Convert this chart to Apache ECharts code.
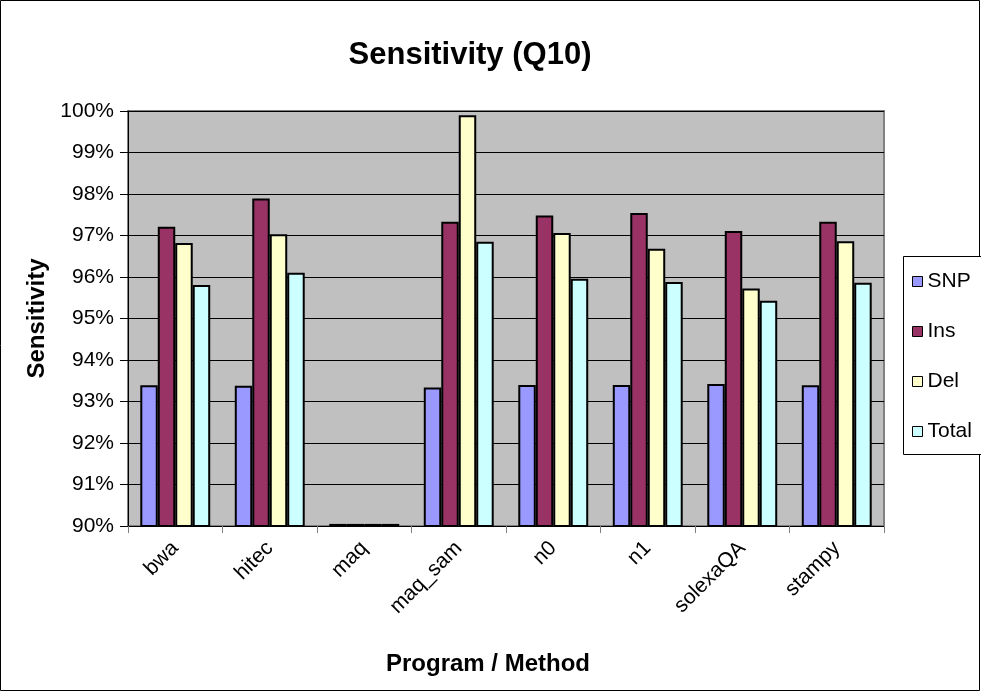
<!DOCTYPE html>
<html>
<head>
<meta charset="utf-8">
<script src="https://cdn.jsdelivr.net/npm/echarts@6/dist/echarts.min.js"></script>
<style>
  html, body { margin: 0; padding: 0; background: #fff; }
  #chart { width: 981px; height: 692px; }
</style>
</head>
<body>
<div id="chart"></div>
<script>
// Sensitivity per program/method, in percent
const categories = ['bwa', 'hitec', 'maq', 'maq_sam', 'n0', 'n1', 'solexaQA', 'stampy'];
const seriesNames = ['SNP', 'Ins', 'Del', 'Total'];
const snp   = [93.39, 93.38, 90.05, 93.34, 93.40, 93.40, 93.42, 93.39];
const ins   = [97.21, 97.89, 90.05, 97.33, 97.48, 97.54, 97.11, 97.33];
const del   = [96.82, 97.03, 90.05, 99.90, 97.06, 96.68, 95.72, 96.86];
const total = [95.81, 96.10, 90.05, 96.85, 95.96, 95.88, 95.43, 95.86];
const yMin = 90, yMax = 100, yStep = 1;

const colors = ['#9999FF', '#993366', '#FFFFCC', '#CCFFFF'];
const values = [snp, ins, del, total];
const FONT = 'Liberation Sans, Arial, sans-serif';

const chart = echarts.init(document.getElementById('chart'), null, { renderer: 'canvas' });

chart.setOption({
  animation: false,
  backgroundColor: '#ffffff',
  textStyle: { fontFamily: FONT },
  title: {
    text: 'Sensitivity (Q10)',
    left: 465,
    top: 35,
    textAlign: 'center',
    textStyle: { fontFamily: FONT, fontWeight: 'bold', fontSize: 31, color: '#000' }
  },
  graphic: [
    { type: 'rect', z: 0, shape: { x: 0.5, y: 0.5, width: 979, height: 690 },
      style: { fill: 'none', stroke: '#000', lineWidth: 1 } },
    { type: 'rect', z: 1, shape: { x: 903.5, y: 256.5, width: 90, height: 198 },
      style: { fill: '#fff', stroke: '#000', lineWidth: 1 } }
  ],
  legend: {
    orient: 'vertical',
    left: 912,
    top: 271,
    padding: 0,
    itemWidth: 10,
    itemHeight: 10,
    itemGap: 29,
    icon: 'rect',
    z: 5,
    itemStyle: { borderColor: '#000', borderWidth: 1 },
    textStyle: { fontFamily: FONT, fontSize: 21, color: '#000', lineHeight: 21 },
    data: seriesNames
  },
  grid: {
    left: 128, right: 97, top: 111, bottom: 166,
    show: true,
    backgroundColor: '#C0C0C0',
    borderColor: '#808080',
    borderWidth: 2
  },
  xAxis: {
    type: 'category',
    data: categories,
    name: 'Program / Method',
    nameLocation: 'middle',
    nameGap: 126,
    nameTextStyle: {
      fontFamily: FONT, fontWeight: 'bold', fontSize: 24, color: '#000',
      padding: [0, 36, 0, 0]
    },
    axisLine: { show: true, lineStyle: { color: '#000', width: 1 } },
    axisTick: { show: true, length: 7, alignWithLabel: false, lineStyle: { color: '#808080' } },
    axisLabel: { rotate: 45, margin: 19, fontFamily: FONT, fontSize: 21, color: '#000' }
  },
  yAxis: {
    type: 'value',
    min: yMin,
    max: yMax,
    interval: yStep,
    name: 'Sensitivity',
    nameLocation: 'middle',
    nameRotate: 90,
    nameGap: 75,
    nameTextStyle: { fontFamily: FONT, fontWeight: 'bold', fontSize: 24, color: '#000' },
    axisLine: { show: true, lineStyle: { color: '#000', width: 1 } },
    axisTick: { show: true, length: 8, lineStyle: { color: '#000' } },
    axisLabel: {
      margin: 14,
      fontFamily: FONT, fontSize: 21, color: '#000',
      formatter: v => Math.round(v) + '%'
    },
    splitLine: { show: true, lineStyle: { color: '#000', width: 1 } }
  },
  series: seriesNames.map((name, i) => ({
    name: name,
    type: 'bar',
    data: values[i],
    barGap: '0%',
    barCategoryGap: '26%',
    itemStyle: { color: colors[i], borderColor: '#000', borderWidth: 2 },
    emphasis: { disabled: true }
  }))
});
</script>
</body>
</html>
